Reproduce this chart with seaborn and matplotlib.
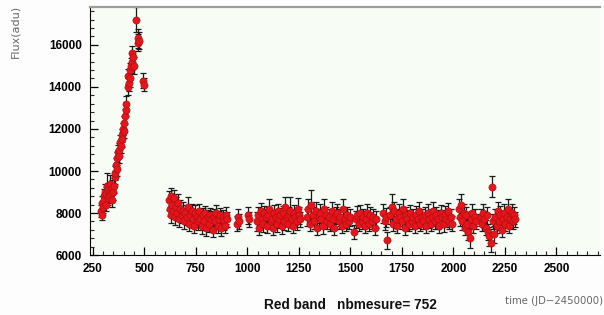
import numpy as np
import pandas as pd
import matplotlib
matplotlib.use("Agg")
import matplotlib.pyplot as plt
from matplotlib.ticker import MultipleLocator
import seaborn as sns

# ---- data ----
rise_time = [290, 293, 296, 300, 303, 306, 310, 313, 316, 320, 323, 326, 330, 333, 336,
             340, 343, 346, 350, 353, 356, 360, 363, 366, 370, 373, 376, 380, 383, 386,
             390, 393, 396, 400, 403, 406, 410, 413, 420, 423, 426, 430, 433, 436, 440,
             443, 447, 452, 459, 468, 471, 474, 495, 498]
rise_flux = [8100, 7900, 8500, 8300, 8800, 8600, 9000, 8400, 8900, 9300, 8700, 9100, 8800, 9000, 9400,
             8900, 9200, 8600, 9000, 9300, 9700, 9900, 10300, 10100, 10600, 10900, 10700, 11000, 11400, 11200,
             11700, 11500, 12000, 11900, 12300, 12600, 12900, 13200, 14000, 14500, 14200, 14800, 14400, 15000, 15200,
             15600, 15400, 15000, 17200, 16300, 16100, 16200, 14300, 14100]
rise_err = [300, 250, 300, 280, 350, 300, 400, 300, 350, 600, 300, 350, 300, 350, 400,
            300, 350, 300, 400, 350, 300, 350, 300, 350, 300, 350, 300, 350, 300, 350,
            300, 350, 300, 350, 300, 350, 300, 350, 400, 350, 400, 350, 400, 350, 400,
            350, 300, 400, 600, 450, 400, 400, 350, 300]

plat_time = [620, 624, 628, 632, 636, 640, 645, 650, 655, 660, 665, 670, 676, 682, 688, 694, 700, 706,
             712, 718, 724, 730, 736, 742, 748, 754, 760, 766,
             772, 778, 784, 790, 796, 802, 808, 814, 820, 826, 832, 838, 844, 850, 856, 862, 868, 874,
             880, 886, 892, 898, 904,
             948, 955, 962, 1002, 1008,
             1047, 1053, 1059, 1065, 1071, 1077, 1083, 1089, 1095, 1101, 1107, 1113, 1119, 1125, 1131,
             1137, 1143, 1149, 1155, 1161, 1167, 1173, 1179, 1185, 1191, 1197, 1203, 1209, 1215, 1221,
             1227, 1233, 1239, 1245, 1251, 1256,
             1290, 1297, 1304, 1311, 1318, 1325, 1332, 1339, 1346, 1353, 1360, 1367, 1374, 1381, 1388,
             1395, 1402, 1409, 1416, 1423, 1430, 1437, 1444, 1451, 1458, 1465, 1472, 1479, 1486, 1493,
             1500, 1520, 1527, 1534, 1541, 1548, 1555, 1562, 1569, 1576, 1583, 1590, 1597, 1604, 1611,
             1618, 1625,
             1660, 1666, 1672, 1678,
             1693, 1700, 1707, 1714, 1721, 1728, 1735, 1742, 1749, 1756, 1763, 1770, 1777, 1784, 1791,
             1798, 1805, 1812, 1819, 1826, 1833, 1840, 1847, 1854, 1861, 1868, 1875, 1882, 1889, 1896,
             1903, 1910, 1917, 1924, 1931, 1938, 1945, 1952, 1959, 1966, 1973, 1980, 1987, 1994,
             2025, 2031, 2037, 2043, 2049, 2055, 2061, 2067, 2073, 2079, 2085, 2091, 2097, 2103, 2109,
             2132, 2138, 2144, 2150, 2156, 2162, 2168, 2174, 2180, 2186, 2192, 2198, 2204, 2210, 2216,
             2222, 2228, 2234, 2240, 2246, 2252, 2258, 2264, 2270, 2276, 2282, 2288, 2294, 2300]
plat_flux = [8600, 8200, 8800, 7900, 8400, 8100, 8700, 7800, 8300, 8000, 8500, 7700, 8200, 7900, 8100, 7600, 8000, 7800,
             8300, 7500, 7900, 8100, 7700, 7400, 8000, 7800, 7600, 8100,
             7700, 7400, 7900, 7600, 8000, 7300, 7800, 7500, 7900, 7700, 7200, 7800, 7600, 8000, 7400, 7700, 7900, 7300,
             7800, 7600, 7400, 7900, 7700,
             7500, 7800, 7600, 7900, 7700,
             7600, 7900, 7300, 8100, 7700, 7500, 8000, 7800, 7400, 7900, 8200, 7600, 7700, 7300, 8000,
             7800, 7500, 8100, 7700, 7900, 7400, 8000, 7600, 8300, 7800, 7500, 7900, 8100, 7700, 7400,
             8000, 7800, 7600, 8200, 7900, 7700,
             7800, 8200, 7500, 8400, 7900, 7600, 8100, 7300, 7800, 8000, 7700, 7400, 8200, 7900, 7600,
             7800, 7500, 8100, 7700, 7300, 7900, 8000, 7600, 7800, 7400, 8200, 7700, 7500, 7900, 7600,
             7800, 7100, 7700, 7900, 7500, 8000, 7600, 7800, 7400, 7700, 8000, 7500, 7900, 7600, 7800,
             7300, 7700,
             8000, 7600, 7800, 6700,
             7900, 8300, 7500, 8100, 7700, 7400, 8000, 7800, 7600, 8200, 7300, 7900, 7700, 7500, 8000,
             7600, 7800, 7400, 7900, 7700, 8100, 7500, 7800, 7600, 7900, 7400, 8000, 7700, 7500, 7800,
             8100, 7600, 7900, 7700, 7400, 8000, 7800, 7500, 7900, 7700, 8100, 7600, 7800, 7500,
             8200, 7800, 8400, 7600, 8000, 7300, 7900, 7500, 7100, 6800, 7700, 8000, 7400, 7800, 7600,
             7800, 7500, 8000, 7700, 7300, 7900, 7100, 6900, 6600, 9250, 7600, 7000, 7800, 7400, 8100,
             7600, 7900, 7200, 7700, 8000, 7500, 7800, 8200, 7400, 7700, 8000, 7600, 7900, 7700]
plat_err = [450, 350, 400, 350, 500, 350, 400, 350, 450, 350, 400, 350, 400, 350, 450, 350, 400, 350,
            450, 350, 400, 350, 400, 350, 400, 350, 400, 350,
            350, 400, 350, 400, 350, 400, 350, 400, 350, 400, 350, 400, 350, 400, 350, 400, 350, 400,
            350, 400, 350, 400, 350,
            350, 400, 350, 400, 350,
            450, 400, 350, 400, 350, 400, 350, 400, 350, 400, 450, 350, 400, 350, 400,
            350, 400, 350, 400, 350, 400, 350, 400, 450, 400, 350, 400, 650, 400, 350,
            400, 350, 400, 500, 400, 350,
            400, 450, 350, 700, 400, 350, 450, 350, 400, 450, 350, 400, 450, 400, 350,
            400, 350, 450, 400, 350, 400, 450, 350, 400, 350, 450, 400, 350, 400, 350,
            400, 350, 400, 450, 350, 400, 350, 400, 350, 400, 450, 350, 400, 350, 400,
            350, 400,
            450, 400, 450, 400,
            400, 600, 350, 450, 400, 350, 450, 400, 350, 450, 350, 400, 450, 350, 400,
            350, 400, 350, 450, 400, 450, 350, 400, 350, 400, 350, 450, 400, 350, 400,
            450, 350, 400, 450, 350, 400, 350, 400, 450, 350, 400, 350, 400, 350,
            450, 400, 500, 400, 450, 350, 400, 350, 400, 450, 400, 450, 350, 400, 350,
            400, 350, 450, 400, 350, 400, 400, 450, 450, 500, 350, 400, 400, 350, 450,
            400, 450, 350, 400, 450, 350, 400, 450, 350, 400, 450, 350, 400, 350]

xticks = [250, 500, 750, 1000, 1250, 1500, 1750, 2000, 2250, 2500]
yticks = [6000, 8000, 10000, 12000, 14000, 16000]

df = pd.DataFrame({
    "time": rise_time + plat_time,
    "flux": rise_flux + plat_flux,
    "err": rise_err + plat_err,
})

sns.set_style("ticks")
plt.rcParams["font.family"] = ["Liberation Sans", "DejaVu Sans"]

fig = plt.figure(figsize=(6.04, 3.15), dpi=100, facecolor="#fdfdfd")
ax = fig.add_axes([0.149, 0.19, 0.845, 0.788])
ax.set_facecolor("#f7fcf5")

ax.errorbar(df["time"], df["flux"], yerr=df["err"], fmt="none",
            ecolor="#1a1a1a", elinewidth=0.9, capsize=2.5, capthick=0.9, zorder=2)
sns.scatterplot(data=df, x="time", y="flux", ax=ax, color="#e8141c",
                edgecolor="#a01010", linewidth=0.4, s=27, zorder=3, legend=False)

ax.set_xlim(237, 2713)
ax.set_ylim(6000, 17800)
ax.set_xticks(xticks)
ax.set_yticks(yticks)
ax.xaxis.set_minor_locator(MultipleLocator(50))
ax.yaxis.set_minor_locator(MultipleLocator(400))
ax.tick_params(axis="both", which="major", direction="in", length=6, width=0.9,
               labelsize=8.5, colors="black", pad=6)
ax.tick_params(axis="both", which="minor", direction="in", length=3, width=0.8)
for lbl in ax.get_xticklabels() + ax.get_yticklabels():
    lbl.set_fontweight("bold")

ax.spines["left"].set_color("black")
ax.spines["bottom"].set_color("black")
ax.spines["top"].set_color("#9a9e9a")
ax.spines["top"].set_linewidth(1.6)
ax.spines["right"].set_visible(False)

ax.set_xlabel("")
ax.set_ylabel("")
fig.text(0.58, 0.033, "Red band   nbmesure= 752", ha="center", va="center",
         fontsize=9.8, fontweight="bold", color="#111111")
fig.text(0.999, 0.045, "time (JD\u22122450000)", ha="right", va="center",
         fontsize=7.3, color="#666666", family=["DejaVu Sans"])
fig.text(0.025, 0.985, "Flux(adu)", ha="center", va="top", rotation=90,
         fontsize=8, color="#666666", family=["DejaVu Sans"])

fig.savefig("out.png", dpi=100, facecolor=fig.get_facecolor())
